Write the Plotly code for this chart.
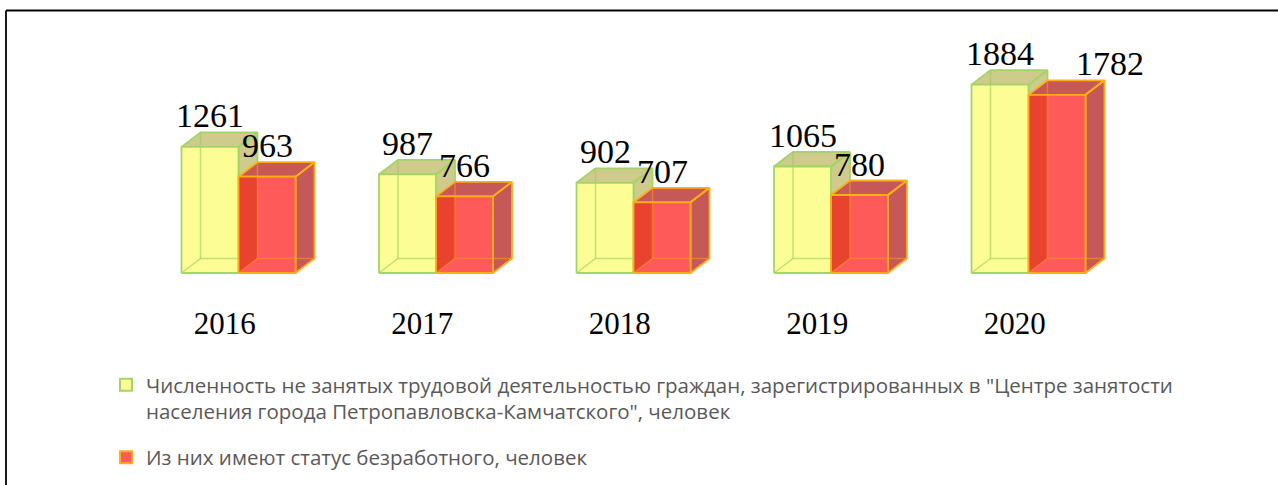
import plotly.graph_objects as go

# ---------------- data ----------------
years = ["2016", "2017", "2018", "2019", "2020"]
registered = [1261, 987, 902, 1065, 1884]
unemployed = [963, 766, 707, 780, 1782]
name_registered = ("Численность не занятых трудовой деятельностью граждан, зарегистрированных в \"Центре занятости"
                   "<br>населения города Петропавловска-Камчатского\", человек")
name_unemployed = "Из них имеют статус безработного, человек"

# ---------------- style / geometry ----------------
W = 0.2886      # front face width (x units)
DX = 0.0962     # depth offset x (x units)
DY = 145        # depth offset y (value units)
YEL_FRONT = "#FDFD96"
YEL_TOP = "#CFCB8C"
YEL_EDGE = "#A3D565"
YEL_INNER = "rgba(150,205,90,0.6)"
RED_FRONT = "#FF5A5A"
RED_TOP = "#C65858"
RED_STRIP = "#E8432F"
RED_EDGE = "#FFAE1A"
RED_INNER = "rgba(255,150,30,0.6)"

pos = list(range(len(years)))


def geom(values, left):
    top_side, front, strip, inner = ([], []), ([], []), ([], []), ([], [])

    def add(buf, pts):
        for (x, y) in pts:
            buf[0].append(x)
            buf[1].append(y)
        buf[0].append(None)
        buf[1].append(None)

    for i, h in zip(pos, values):
        x0 = i - W if left else i
        x1 = x0 + W
        add(top_side, [(x0, h), (x1, h), (x1 + DX, h + DY), (x0 + DX, h + DY), (x0, h)])
        add(top_side, [(x1, 0), (x1 + DX, DY), (x1 + DX, h + DY), (x1, h), (x1, 0)])
        add(front, [(x0, 0), (x1, 0), (x1, h), (x0, h), (x0, 0)])
        add(strip, [(x0, 0), (x0 + DX, DY), (x0 + DX, h), (x0, h), (x0, 0)])
        add(inner, [(x0, 0), (x0 + DX, DY), (x1 + DX, DY)])
        add(inner, [(x0 + DX, DY), (x0 + DX, h + DY)])
    return top_side, front, strip, inner


fig = go.Figure()


def poly(buf, fill, line, lw, mode="lines", dofill=True):
    fig.add_trace(go.Scatter(
        x=buf[0], y=buf[1], mode=mode,
        fill="toself" if dofill else None, fillcolor=fill,
        line=dict(color=line, width=lw), hoverinfo="skip", showlegend=False))


# yellow boxes
ts, fr, st, inn = geom(registered, True)
poly(ts, YEL_TOP, YEL_EDGE, 1.8)
poly(fr, YEL_FRONT, YEL_EDGE, 0)
poly(inn, None, YEL_INNER, 1.5, dofill=False)
poly(fr, None, YEL_EDGE, 1.8, dofill=False)

# red boxes
ts, fr, st, inn = geom(unemployed, False)
poly(ts, RED_TOP, RED_EDGE, 1.8)
poly(fr, RED_FRONT, RED_EDGE, 0)
poly(st, RED_STRIP, "rgba(0,0,0,0)", 0)
poly(inn, None, RED_INNER, 1.5, dofill=False)
poly(fr, None, RED_EDGE, 1.8, dofill=False)

# legend keys
fig.add_trace(go.Scatter(x=[None], y=[None], mode="markers", name=name_registered,
                         marker=dict(symbol="square", size=12, color=YEL_FRONT,
                                     line=dict(color=YEL_EDGE, width=2)),
                         legendgroup="a"))
fig.add_trace(go.Scatter(x=[None], y=[None], mode="markers", name=name_unemployed,
                         marker=dict(symbol="square", size=12, color=RED_FRONT,
                                     line=dict(color=RED_EDGE, width=2)),
                         legendgroup="b"))

# data labels
label_font = dict(family="Liberation Serif", size=34, color="#000000")
xshift_red = [0, 0, 0, 0, 53]
for i, v in zip(pos, registered):
    fig.add_annotation(x=i - W / 2, y=v, text=str(v), showarrow=False, yshift=31,
                       font=label_font, xanchor="center", yanchor="middle")
for i, v, s in zip(pos, unemployed, xshift_red):
    fig.add_annotation(x=i + W / 2, y=v, text=str(v), showarrow=False, yshift=31,
                       xshift=s, font=label_font, xanchor="center", yanchor="middle")

L, R, T, B = 41, 52, 40, 207
PW, PH = 1278 - L - R, 485 - T - B

fig.update_layout(
    width=1278, height=485,
    margin=dict(l=L, r=R, t=T, b=B, pad=0, autoexpand=False),
    paper_bgcolor="white", plot_bgcolor="white",
    showlegend=True,
    legend=dict(orientation="v", xref="container", yref="container",
                x=106 / 1278, y=1 - 365 / 485, xanchor="left", yanchor="top",
                valign="top", tracegroupgap=16, bgcolor="rgba(0,0,0,0)",
                font=dict(family="Open Sans", size=20.5, color="#595959")),
    xaxis=dict(range=[-1, 5], showgrid=False, zeroline=False, showline=False,
               tickvals=[p - 0.07 for p in pos], ticktext=years, ticks="",
               ticklabelstandoff=24,
               tickfont=dict(family="Liberation Serif", size=31, color="#000000"),
               fixedrange=True),
    yaxis=dict(range=[-50, 2330], visible=False, fixedrange=True),
    shapes=[
        dict(type="line", xref="paper", yref="paper",
             x0=(6 - L) / PW, x1=(1278 - L) / PW, y0=1 + (T - 10.5) / PH, y1=1 + (T - 10.5) / PH,
             line=dict(color="#000000", width=2)),
        dict(type="line", xref="paper", yref="paper",
             x0=(6 - L) / PW, x1=(6 - L) / PW, y0=1 + (T - 10.5) / PH, y1=-(485 - T - PH) / PH,
             line=dict(color="#1a1a1a", width=2)),
    ],
)

fig.write_html("out.html", config={"displayModeBar": False},
               post_script="document.body.style.margin='0px';")
